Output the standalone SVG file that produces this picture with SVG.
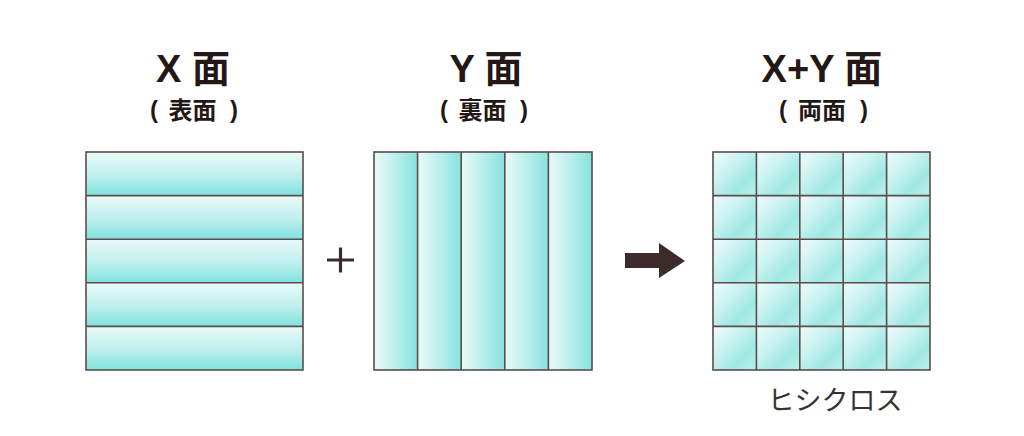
<svg xmlns="http://www.w3.org/2000/svg" xmlns:xlink="http://www.w3.org/1999/xlink" width="1024" height="436" viewBox="0 0 1024 436">
<defs>
<linearGradient id="gv" x1="0" y1="0" x2="0" y2="1">
<stop offset="0" stop-color="#eafaf8"/><stop offset="0.55" stop-color="#bdefed"/><stop offset="1" stop-color="#7fe2dd"/>
</linearGradient>
<linearGradient id="gh" x1="0" y1="0" x2="1" y2="0">
<stop offset="0" stop-color="#eafaf8"/><stop offset="0.55" stop-color="#b5eeeb"/><stop offset="1" stop-color="#86e2de"/>
</linearGradient>
<linearGradient id="gd" x1="0" y1="0" x2="1" y2="1">
<stop offset="0" stop-color="#effbfa"/><stop offset="0.35" stop-color="#cdf3f1"/><stop offset="0.7" stop-color="#a0e8e4"/><stop offset="1" stop-color="#bcefec"/>
</linearGradient>
<rect id="c" width="43.4" height="43.6" fill="url(#gd)"/>
</defs>
<style>
.t{font-family:"Liberation Sans","Noto Sans CJK JP",sans-serif;font-weight:bold;fill:#231815}
.big{font-size:38px;text-anchor:middle}
.sub{font-size:24px}
.mid{text-anchor:middle}
.ln{stroke:#5a4d4b;stroke-width:1.6;fill:none}
.lbl{font-family:"Noto Sans CJK JP",sans-serif;font-size:27px;fill:#333;text-anchor:middle}
</style>
<rect width="1024" height="436" fill="#fff"/>
<g id="x-face">
<rect x="86" y="152" width="217" height="43.6" fill="url(#gv)"/>
<rect x="86" y="195.6" width="217" height="43.6" fill="url(#gv)"/>
<rect x="86" y="239.2" width="217" height="43.6" fill="url(#gv)"/>
<rect x="86" y="282.8" width="217" height="43.6" fill="url(#gv)"/>
<rect x="86" y="326.4" width="217" height="43.6" fill="url(#gv)"/>
<rect class="ln" x="86" y="152" width="217" height="218"/>
<path class="ln" d="M86 195.6H303M86 239.2H303M86 282.8H303M86 326.4H303"/>
<text class="t big" x="193" y="82">X 面</text>
<text class="t sub" x="150" y="118">(</text>
<text class="t sub mid" x="192.5" y="119">表面</text>
<text class="t sub" x="230" y="118">)</text>
</g>
<g id="y-face">
<rect x="374" y="152" width="43.6" height="218" fill="url(#gh)"/>
<rect x="417.6" y="152" width="43.6" height="218" fill="url(#gh)"/>
<rect x="461.2" y="152" width="43.6" height="218" fill="url(#gh)"/>
<rect x="504.8" y="152" width="43.6" height="218" fill="url(#gh)"/>
<rect x="548.4" y="152" width="43.6" height="218" fill="url(#gh)"/>
<rect class="ln" x="374" y="152" width="218" height="218"/>
<path class="ln" d="M417.6 152V370M461.2 152V370M504.8 152V370M548.4 152V370"/>
<text class="t big" x="486" y="82">Y 面</text>
<text class="t sub" x="440" y="118">(</text>
<text class="t sub mid" x="482.5" y="119">裏面</text>
<text class="t sub" x="520" y="118">)</text>
</g>
<g id="xy-face">
<use href="#c" x="713" y="152"/><use href="#c" x="756.4" y="152"/><use href="#c" x="799.8" y="152"/><use href="#c" x="843.2" y="152"/><use href="#c" x="886.6" y="152"/>
<use href="#c" x="713" y="195.6"/><use href="#c" x="756.4" y="195.6"/><use href="#c" x="799.8" y="195.6"/><use href="#c" x="843.2" y="195.6"/><use href="#c" x="886.6" y="195.6"/>
<use href="#c" x="713" y="239.2"/><use href="#c" x="756.4" y="239.2"/><use href="#c" x="799.8" y="239.2"/><use href="#c" x="843.2" y="239.2"/><use href="#c" x="886.6" y="239.2"/>
<use href="#c" x="713" y="282.8"/><use href="#c" x="756.4" y="282.8"/><use href="#c" x="799.8" y="282.8"/><use href="#c" x="843.2" y="282.8"/><use href="#c" x="886.6" y="282.8"/>
<use href="#c" x="713" y="326.4"/><use href="#c" x="756.4" y="326.4"/><use href="#c" x="799.8" y="326.4"/><use href="#c" x="843.2" y="326.4"/><use href="#c" x="886.6" y="326.4"/>
<rect class="ln" x="713" y="152" width="217" height="218"/>
<path class="ln" d="M756.4 152V370M799.8 152V370M843.2 152V370M886.6 152V370M713 195.6H930M713 239.2H930M713 282.8H930M713 326.4H930"/>
<text class="t big" x="822" y="82">X+Y 面</text>
<text class="t sub" x="779" y="118">(</text>
<text class="t sub mid" x="822" y="119">両面</text>
<text class="t sub" x="860" y="118">)</text>
<text class="lbl" x="835" y="410">ヒシクロス</text>
</g>
<g id="connectors">
<path d="M327 260H354M340.5 247.5V272.5" stroke="#3d2b2b" stroke-width="3.2" fill="none"/>
<polygon points="625,253 659,253 659,243 685,261 659,278 659,268 625,268" fill="#3d2b2b"/>
</g>
</svg>
